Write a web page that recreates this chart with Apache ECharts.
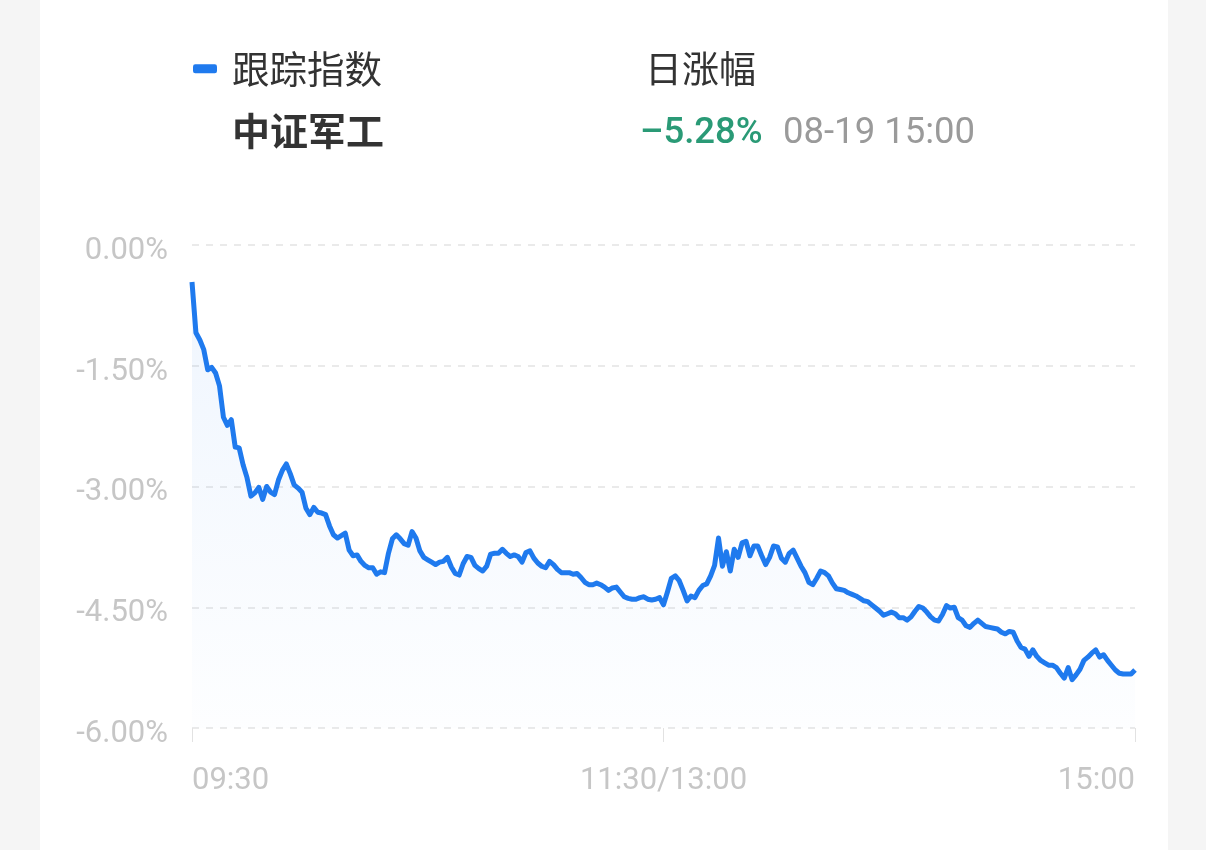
<!DOCTYPE html>
<html>
<head>
<meta charset="utf-8">
<script src="https://cdn.jsdelivr.net/npm/echarts@6/dist/echarts.min.js"></script>
<style>
  html, body { margin: 0; padding: 0; background: #f5f5f5; }
  #chart { width: 1206px; height: 850px; }
</style>
</head>
<body>
<div id="chart"></div>
<script>
let $ = a => document.querySelector(a)

// 分时数据 09:30 - 11:30 / 13:00 - 15:00, 每分钟一个点 (涨幅 %)
const seriesName = '跟踪指数'
const indexName = '中证军工'
const dateText = '08-19 15:00'

const morningValues = [
    -0.46, -1.09, -1.18, -1.30, -1.55, -1.52, -1.59, -1.75, -2.14, -2.24,
    -2.17, -2.51, -2.52, -2.73, -2.89, -3.12, -3.08, -3.01, -3.16, -3.00,
    -3.07, -3.10, -2.92, -2.80, -2.72, -2.84, -2.98, -3.02, -3.07, -3.27,
    -3.35, -3.26, -3.32, -3.33, -3.35, -3.49, -3.60, -3.64, -3.61, -3.58,
    -3.79, -3.86, -3.85, -3.93, -3.98, -4.01, -4.01, -4.09, -4.06, -4.07,
    -3.83, -3.65, -3.60, -3.65, -3.71, -3.73, -3.56, -3.64, -3.80, -3.88,
    -3.91, -3.94, -3.97, -3.94, -3.93, -3.88, -4.00, -4.08, -4.10, -3.96,
    -3.87, -3.88, -3.98, -4.02, -4.05, -3.99, -3.84, -3.83, -3.83, -3.78,
    -3.83, -3.87, -3.85, -3.87, -3.94, -3.82, -3.80, -3.89, -3.95, -3.99,
    -4.01, -3.93, -3.97, -4.03, -4.07, -4.07, -4.07, -4.09, -4.08, -4.13,
    -4.19, -4.22, -4.22, -4.20, -4.22, -4.25, -4.29, -4.26, -4.25, -4.31,
    -4.37, -4.39, -4.40, -4.40, -4.38, -4.37, -4.40, -4.41, -4.40, -4.38,
    -4.47
]
const afternoonValues = [
    -4.31, -4.14, -4.11, -4.17, -4.29, -4.42, -4.36, -4.38, -4.29, -4.23,
    -4.21, -4.11, -3.98, -3.64, -3.99, -3.81, -4.05, -3.78, -3.88, -3.70,
    -3.68, -3.86, -3.74, -3.74, -3.86, -3.97, -3.88, -3.74, -3.75, -3.89,
    -3.94, -3.83, -3.79, -3.89, -3.99, -4.07, -4.19, -4.22, -4.14, -4.05,
    -4.07, -4.11, -4.20, -4.27, -4.28, -4.29, -4.32, -4.34, -4.36, -4.39,
    -4.42, -4.43, -4.47, -4.51, -4.55, -4.60, -4.58, -4.56, -4.58, -4.63,
    -4.63, -4.66, -4.62, -4.55, -4.49, -4.51, -4.56, -4.62, -4.66, -4.67,
    -4.59, -4.48, -4.51, -4.50, -4.63, -4.66, -4.73, -4.75, -4.70, -4.66,
    -4.70, -4.74, -4.75, -4.76, -4.77, -4.81, -4.83, -4.80, -4.81, -4.92,
    -5.00, -5.02, -5.11, -5.03, -5.11, -5.16, -5.19, -5.22, -5.22, -5.25,
    -5.32, -5.38, -5.25, -5.40, -5.34, -5.27, -5.16, -5.12, -5.07, -5.03,
    -5.12, -5.09, -5.16, -5.22, -5.28, -5.32, -5.33, -5.33, -5.33, -5.28
]
const values = morningValues.concat(afternoonValues)

// x轴只显示三个刻度
const tickIndexes = [0, 120, 240]
const tickLabels = ['09:30', '11:30/13:00', '15:00']

// y轴刻度
const yMin = -6
const yMax = 0
const yStep = 1.5

// 时间类目
let times = []
{
    const pad = n => (n < 10 ? '0' : '') + n
    for (let i = 0; i < values.length; i++) {
        let m = i <= 120 ? 9 * 60 + 30 + i : 13 * 60 + (i - 120)
        times.push(pad(Math.floor(m / 60)) + ':' + pad(m % 60))
    }
    times[120] = tickLabels[1]
}

const lastValue = values[values.length - 1]
const numFont = 'Roboto, "Noto Sans CJK SC", sans-serif'
const cjkFont = '"Noto Sans CJK SC", Roboto, sans-serif'

echarts.init($('#chart')).setOption({
    backgroundColor: '#f5f5f5',
    animation: false,
    legend: {
        left: 193,
        top: 50,
        padding: 0,
        data: [seriesName],
        icon: 'roundRect',
        itemWidth: 24,
        itemHeight: 9,
        itemGap: 0,
        textStyle: {
            fontSize: 37.5,
            color: '#333',
            fontFamily: cjkFont,
            padding: [0, 0, 0, 10]
        }
    },
    graphic: [
        {
            type: 'rect',
            z: -10,
            shape: { x: 40, y: 0, width: 1128, height: 850 },
            style: { fill: '#fff' }
        },
        {
            type: 'text', left: 645, top: 50,
            style: { text: '日涨幅', fontSize: 37, fill: '#333', fontFamily: cjkFont }
        },
        {
            type: 'text', left: 232, top: 112,
            style: { text: indexName, fontSize: 38, fontWeight: 'bold', fill: '#333', fontFamily: cjkFont }
        },
        {
            type: 'text', left: 640, top: 116,
            style: { text: '\u2013' + Math.abs(lastValue).toFixed(2) + '%', fontSize: 36.5, fontWeight: 500, fill: '#2a9a76', fontFamily: numFont }
        },
        {
            type: 'text', left: 783, top: 116,
            style: { text: dateText, fontSize: 36.5, fill: '#9a9a9a', fontFamily: numFont }
        }
    ],
    grid: {
        left: 192,
        right: 71,
        top: 245,
        bottom: 122
    },
    xAxis: {
        type: 'category',
        data: times,
        boundaryGap: false,
        axisLine: { show: false, onZero: false },
        axisTick: {
            show: true,
            length: 14,
            interval: idx => tickIndexes.indexOf(idx) >= 0,
            lineStyle: { color: '#e2e2e2', width: 1 }
        },
        axisLabel: {
            interval: idx => tickIndexes.indexOf(idx) >= 0,
            color: '#c6c6c6',
            fontSize: 31,
            fontFamily: numFont,
            margin: 38,
            alignMinLabel: 'left',
            alignMaxLabel: 'right'
        },
        splitLine: { show: false }
    },
    yAxis: {
        type: 'value',
        min: yMin,
        max: yMax,
        interval: yStep,
        axisLine: { show: false },
        axisTick: { show: false },
        axisLabel: {
            color: '#c6c6c6',
            fontSize: 31,
            fontFamily: numFont,
            margin: 24,
            lineHeight: 12,
            verticalAlign: 'top',
            formatter: v => v.toFixed(2) + '%'
        },
        splitLine: {
            lineStyle: { color: '#e3e3e3', type: [7, 7], width: 1.5 }
        }
    },
    series: [{
        name: seriesName,
        type: 'line',
        data: values,
        showSymbol: false,
        smooth: false,
        itemStyle: { color: '#1f7aee' },
        lineStyle: { color: '#1f7aee', width: 5, join: 'round' },
        areaStyle: {
            origin: 'start',
            color: new echarts.graphic.LinearGradient(0, 0, 0, 1, [
                { offset: 0, color: 'rgba(31,122,238,0.10)' },
                { offset: 1, color: 'rgba(31,122,238,0.01)' }
            ])
        }
    }]
})
</script>
</body>
</html>
